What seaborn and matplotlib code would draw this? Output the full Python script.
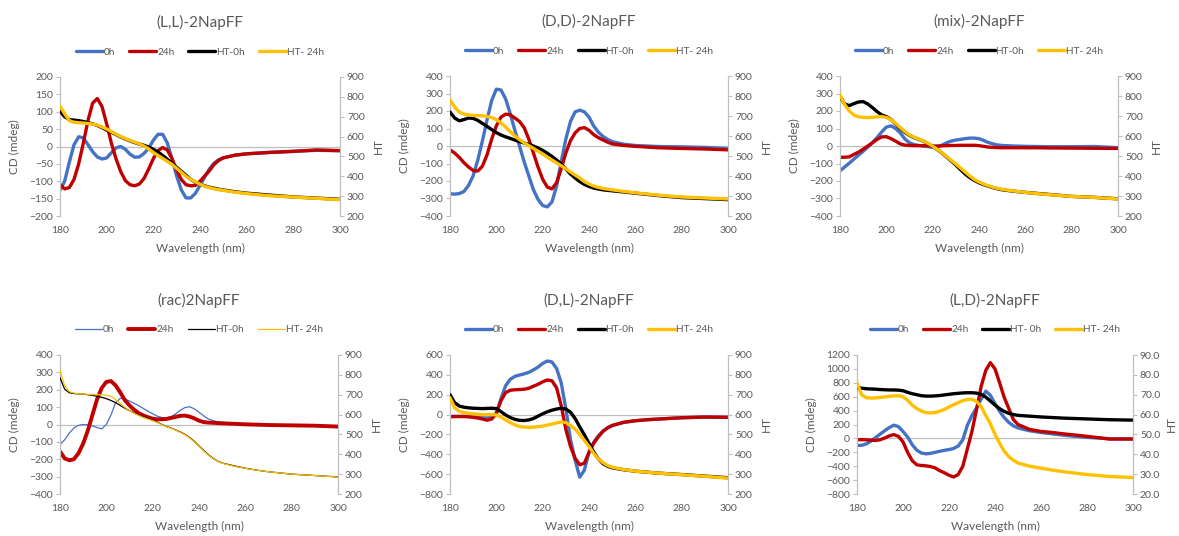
import matplotlib
matplotlib.use("Agg")
import matplotlib.pyplot as plt
import seaborn as sns
import pandas as pd
from matplotlib.lines import Line2D
from matplotlib.ticker import FormatStrFormatter

# ---------------- data ----------------
wavelength = [180, 182, 184, 186, 188, 190, 192, 194, 196, 198,
              200, 202, 204, 206, 208, 210, 212, 214, 216, 218,
              220, 222, 224, 226, 228, 230, 232, 234, 236, 238,
              240, 242, 244, 246, 248, 250,
              255, 260, 265, 270, 280, 290, 300]

titles = ["(L,L)-2NapFF", "(D,D)-2NapFF", "(mix)-2NapFF",
          "(rac)2NapFF", "(D,L)-2NapFF", "(L,D)-2NapFF"]
series_labels = ["0h", "24h", "HT-0h", "HT- 24h"]
series_labels_ld = ["0h", "24h", "HT- 0h", "HT- 24h"]

# (L,L)
LL_0h = [-125, -100, -45, 5, 28, 25, 5, -15, -30, -36,
         -33, -18, -4, 0, -8, -22, -31, -30, -20, -5,
         18, 35, 35, 10, -35, -85, -125, -148, -148, -135,
         -112, -88, -65, -48, -38, -32,
         -25, -21, -19, -17, -14, -11, -12]
LL_24h = [-110, -122, -118, -95, -50, 10, 75, 125, 138, 115,
          65, 10, -35, -72, -98, -110, -113, -108, -92, -65,
          -35, -12, -3, -10, -35, -68, -95, -110, -113, -112,
          -100, -85, -70, -52, -40, -33,
          -25, -21, -19, -17, -14, -10, -12]
LL_HT0 = [728, 700, 685, 683, 680, 676, 670, 664, 656, 645,
          633, 622, 610, 598, 588, 578, 570, 562, 556, 547,
          536, 522, 505, 485, 465, 445, 425, 405, 385, 370,
          360, 352, 345, 340, 335, 331,
          322, 315, 310, 305, 296, 290, 284]
LL_HT24 = [752, 715, 680, 672, 670, 668, 666, 663, 658, 648,
           638, 625, 612, 600, 590, 580, 572, 563, 552, 538,
           520, 505, 490, 475, 460, 440, 420, 400, 385, 372,
           360, 350, 343, 337, 333, 329,
           320, 313, 307, 302, 295, 289, 282]

# (D,D)
DD_0h = [-273, -275, -272, -260, -225, -170, -80, 30, 150, 260,
         325, 320, 270, 185, 90, 0, -90, -170, -250, -305,
         -340, -348, -320, -230, -90, 40, 140, 195, 205, 195,
         165, 115, 80, 55, 38, 25,
         10, 3, 0, -3, -5, -8, -15]
DD_24h = [-22, -40, -65, -95, -120, -140, -143, -115, -50, 40,
          115, 165, 182, 178, 160, 140, 105, 40, -40, -120,
          -190, -235, -245, -210, -130, -40, 30, 75, 100, 105,
          90, 65, 48, 35, 22, 12,
          3, -2, -6, -10, -14, -17, -22]
DD_HT0 = [720, 690, 676, 682, 690, 688, 678, 663, 648, 632,
          617, 605, 596, 588, 580, 572, 565, 558, 550, 540,
          528, 514, 498, 480, 460, 435, 410, 390, 372, 358,
          348, 340, 335, 331, 328, 326,
          320, 314, 308, 302, 292, 287, 282]
DD_HT24 = [780, 745, 720, 710, 705, 703, 702, 701, 698, 692,
           682, 666, 645, 622, 600, 582, 566, 552, 538, 524,
           510, 494, 480, 466, 451, 436, 420, 405, 390, 372,
           360, 350, 343, 338, 334, 331,
           323, 316, 310, 304, 295, 290, 285]

# (mix)
MIX_0h = [-142, -120, -98, -75, -52, -30, -6, 20, 48, 80,
          108, 115, 100, 75, 40, 18, 8, 3, 0, -3,
          -8, -5, 5, 18, 28, 34, 38, 42, 45, 45,
          42, 32, 20, 12, 6, 3,
          0, -2, -3, -4, -4, -3, -10]
MIX_24h = [-65, -64, -62, -48, -35, -18, 0, 18, 38, 52,
           53, 42, 28, 12, 5, 3, 2, 2, 2, 1,
           0, 0, 1, 2, 3, 3, 4, 4, 4, 4,
           2, -2, -6, -8, -9, -10,
           -10, -10, -10, -11, -12, -13, -14]
MIX_HT0 = [800, 760, 752, 762, 770, 772, 760, 742, 722, 705,
           697, 683, 660, 638, 618, 603, 592, 583, 574, 562,
           548, 532, 515, 495, 475, 455, 432, 410, 392, 378,
           366, 357, 349, 342, 336, 331,
           324, 318, 313, 308, 298, 293, 286]
MIX_HT24 = [805, 758, 725, 705, 696, 693, 692, 693, 696, 697,
            693, 682, 663, 642, 622, 605, 594, 584, 575, 563,
            549, 533, 516, 497, 478, 460, 440, 420, 400, 383,
            370, 360, 351, 344, 338, 333,
            325, 318, 312, 307, 298, 293, 285]

# (rac)
RAC_0h = [-115, -88, -50, -20, -5, 0, -2, -8, -18, -25,
          0, 55, 125, 150, 148, 135, 122, 108, 92, 76,
          62, 48, 40, 38, 45, 62, 82, 98, 102, 90,
          70, 50, 32, 22, 16, 12,
          6, 2, 0, -2, -5, -7, -10]
RAC_24h = [-155, -195, -206, -200, -165, -110, -35, 55, 145, 210,
           245, 250, 225, 185, 140, 110, 85, 65, 52, 42,
           33, 30, 30, 32, 38, 44, 50, 51, 45, 35,
           22, 14, 11, 10, 8, 7,
           4, 1, -1, -3, -5, -7, -12]
RAC_HT0 = [786, 728, 710, 706, 704, 703, 700, 697, 692, 687,
           680, 671, 660, 646, 632, 620, 608, 597, 588, 580,
           572, 562, 550, 540, 532, 522, 512, 500, 484, 465,
           442, 420, 398, 380, 366, 356,
           342, 330, 320, 312, 300, 293, 286]
RAC_HT24 = [825, 745, 716, 708, 705, 703, 702, 701, 700, 700,
            698, 692, 676, 655, 636, 620, 606, 595, 585, 577,
            569, 560, 549, 539, 531, 521, 510, 498, 482, 462,
            440, 417, 396, 378, 365, 355,
            340, 329, 320, 312, 300, 293, 285]

# (D,L)
DL_0h = [-18, -18, -18, -18, -20, -23, -28, -32, -34, -25,
         15, 160, 290, 355, 385, 398, 410, 425, 450, 478,
         515, 540, 530, 465, 320, 60, -250, -460, -630, -560,
         -380, -280, -215, -168, -132, -110,
         -78, -62, -52, -45, -32, -25, -28]
DL_24h = [-22, -20, -20, -20, -22, -28, -35, -45, -57, -45,
          10, 140, 220, 245, 250, 252, 255, 265, 285, 305,
          330, 348, 340, 270, 90, -150, -320, -440, -505, -490,
          -380, -290, -225, -170, -135, -110,
          -78, -62, -52, -45, -32, -25, -28]
DL_HT0 = [700, 660, 643, 637, 634, 632, 631, 630, 631, 632,
          630, 615, 598, 585, 576, 571, 570, 573, 580, 592,
          604, 614, 622, 628, 632, 628, 612, 580, 538, 498,
          455, 412, 378, 353, 340, 332,
          322, 315, 310, 305, 298, 290, 282]
DL_HT24 = [685, 635, 616, 610, 606, 604, 602, 600, 600, 600,
           598, 588, 573, 560, 548, 540, 537, 536, 537, 539,
           542, 547, 552, 558, 563, 560, 545, 527, 500, 470,
           440, 405, 378, 358, 344, 335,
           323, 315, 310, 305, 297, 289, 280]

# (L,D)
LD_0h = [-100, -100, -80, -40, 10, 60, 110, 155, 190, 170,
         100, 20, -90, -170, -210, -222, -215, -200, -185, -172,
         -160, -145, -110, -20, 190, 330, 440, 566, 680, 620,
         500, 390, 300, 230, 180, 150,
         110, 85, 65, 45, 15, -5, -10]
LD_24h = [-20, -18, -20, -25, -30, -20, 5, 35, 55, 30,
          -50, -200, -320, -380, -390, -395, -405, -425, -465, -495,
          -530, -555, -520, -400, -150, 105, 420, 750, 980, 1090,
          1000, 800, 590, 430, 270, 200,
          130, 100, 85, 65, 30, -10, -8]
LD_HT0 = [73.6, 73.3, 73.0, 72.9, 72.8, 72.6, 72.5, 72.4, 72.4, 72.3,
          72.0, 71.2, 70.5, 70.0, 69.5, 69.3, 69.3, 69.4, 69.6, 69.9,
          70.2, 70.5, 70.7, 70.9, 71.0, 71.0, 70.8, 70.2, 68.8, 66.8,
          64.8, 63.0, 61.6, 60.6, 60.0, 59.6,
          59.2, 58.8, 58.5, 58.2, 57.8, 57.4, 57.2]
LD_HT24 = [76.0, 70.0, 68.5, 68.3, 68.4, 68.6, 68.9, 69.2, 69.4, 69.5,
           69.0, 67.2, 64.8, 63.0, 61.8, 61.0, 60.8, 61.0, 61.7, 62.6,
           63.8, 65.0, 66.0, 67.0, 67.6, 67.7, 66.6, 64.0, 59.5, 55.3,
           50.0, 45.5, 41.6, 38.8, 37.0, 35.6,
           34.0, 33.0, 32.0, 31.2, 29.8, 28.8, 28.3]

x_ticks = [180, 200, 220, 240, 260, 280, 300]

# ---------------- style ----------------
sns.set_theme(style="white")
plt.rcParams['font.family'] = ['Lato', 'DejaVu Sans']

BLUE, RED, BLACK, GOLD = "#4472C4", "#C00000", "#000000", "#FFC000"
TXT = "#595959"
AXC = "#BFBFBF"

W, H = 1179, 536
fig = plt.figure(figsize=(W / 100, H / 100), dpi=100)

panels = [
    dict(t=titles[0], box=(60, 77, 340, 216), cd=(LL_0h, LL_24h), ht=(LL_HT0, LL_HT24),
         yl=(-200, 200, 50), hl=(200, 900, 100), hfmt="%d", thin=False, lab=series_labels),
    dict(t=titles[1], box=(450, 76, 728, 216), cd=(DD_0h, DD_24h), ht=(DD_HT0, DD_HT24),
         yl=(-400, 400, 100), hl=(200, 900, 100), hfmt="%d", thin=False, lab=series_labels),
    dict(t=titles[2], box=(840, 76, 1118, 216), cd=(MIX_0h, MIX_24h), ht=(MIX_HT0, MIX_HT24),
         yl=(-400, 400, 100), hl=(200, 900, 100), hfmt="%d", thin=False, lab=series_labels),
    dict(t=titles[3], box=(60, 355, 338, 494), cd=(RAC_0h, RAC_24h), ht=(RAC_HT0, RAC_HT24),
         yl=(-400, 400, 100), hl=(200, 900, 100), hfmt="%d", thin=True, lab=series_labels),
    dict(t=titles[4], box=(450, 355, 728, 494), cd=(DL_0h, DL_24h), ht=(DL_HT0, DL_HT24),
         yl=(-800, 600, 200), hl=(200, 900, 100), hfmt="%d", thin=False, lab=series_labels),
    dict(t=titles[5], box=(857, 355, 1133, 494), cd=(LD_0h, LD_24h), ht=(LD_HT0, LD_HT24),
         yl=(-800, 1200, 200), hl=(20, 90, 10), hfmt="%.1f", thin=False, lab=series_labels_ld),
]

for p in panels:
    x0, y0, x1, y1 = p["box"]
    w, h = x1 - x0, y1 - y0
    ax = fig.add_axes([x0 / W, 1 - y1 / H, w / W, h / H])
    df = pd.DataFrame({"wl": wavelength, "c0": p["cd"][0], "c24": p["cd"][1],
                       "h0": p["ht"][0], "h24": p["ht"][1]})
    lw = 2.4
    lw0 = 0.9 if p["thin"] else lw
    lw24 = 2.8 if p["thin"] else lw
    lwh = 0.9 if p["thin"] else lw

    ax.axhline(0, color=AXC, lw=0.9, zorder=0)
    sns.lineplot(data=df, x="wl", y="c0", ax=ax, color=BLUE, lw=lw0)
    sns.lineplot(data=df, x="wl", y="c24", ax=ax, color=RED, lw=lw24)
    ax2 = ax.twinx()
    sns.lineplot(data=df, x="wl", y="h0", ax=ax2, color=BLACK, lw=lwh)
    sns.lineplot(data=df, x="wl", y="h24", ax=ax2, color=GOLD, lw=lwh)

    lo, hi, st = p["yl"]
    ax.set_xlim(180, 300)
    ax.set_ylim(lo, hi)
    ax.set_yticks(list(range(lo, hi + 1, st)))
    ax.set_xticks(x_ticks)
    hlo, hhi, hst = p["hl"]
    ax2.set_ylim(hlo, hhi)
    ax2.set_yticks(list(range(hlo, hhi + 1, hst)))
    ax2.yaxis.set_major_formatter(FormatStrFormatter(p["hfmt"]))

    for a in (ax, ax2):
        for s in a.spines.values():
            s.set_visible(False)
    ax.spines["left"].set_visible(True)
    ax.spines["left"].set_color(AXC)
    ax.spines["left"].set_linewidth(0.9)
    ax2.spines["right"].set_visible(True)
    ax2.spines["right"].set_color(AXC)
    ax2.spines["right"].set_linewidth(0.9)

    ax.tick_params(axis="y", left=True, direction="out", length=3, width=0.8, color=AXC,
                   labelsize=7.5, labelcolor=TXT, pad=2)
    ax.tick_params(axis="x", bottom=False, length=0, labelsize=7.5, labelcolor=TXT, pad=7)
    ax2.tick_params(axis="y", right=True, direction="out", length=3, width=0.8, color=AXC,
                    labelsize=7.5, labelcolor=TXT, pad=2)

    ax.set_xlabel("Wavelength (nm)", fontsize=8.5, color=TXT)
    ax.xaxis.set_label_coords(0.5, -27 / h)
    ax.set_ylabel("CD (mdeg)", fontsize=8.5, color=TXT)
    ax.yaxis.set_label_coords(-40 / w, 0.5)
    ax2.set_ylabel("HT", fontsize=8.5, color=TXT, rotation=90)
    ax2.yaxis.set_label_coords(1 + 33 / w, 0.5)

    ax.text(0.5, 1 + 55 / h, p["t"], transform=ax.transAxes, ha="center", va="center",
            fontsize=11, color=TXT)

    handles = [Line2D([], [], color=BLUE, lw=lw0), Line2D([], [], color=RED, lw=lw24),
               Line2D([], [], color=BLACK, lw=lwh), Line2D([], [], color=GOLD, lw=lwh)]
    leg = ax2.legend(handles, p["lab"], loc="center", bbox_to_anchor=(0.5, 1 + 25 / h),
                     ncol=4, frameon=False, fontsize=7.2, handlelength=2.7,
                     handletextpad=0.1, columnspacing=1.4, borderaxespad=0)
    for t in leg.get_texts():
        t.set_color(TXT)

fig.savefig("out.png", dpi=100)
